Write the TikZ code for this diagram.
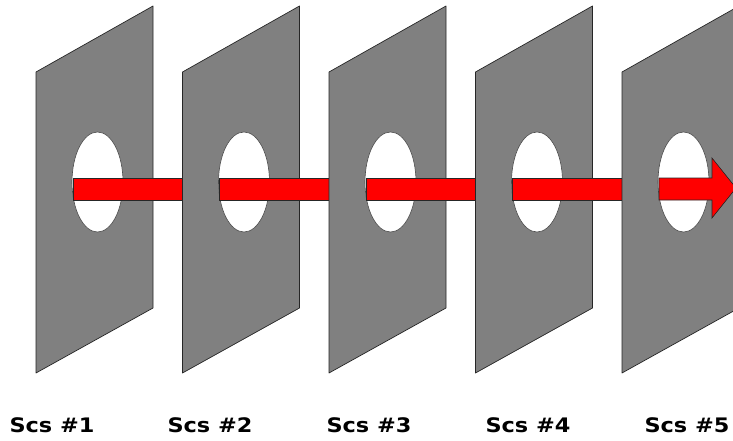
\documentclass[tikz,border=0pt]{standalone}
\usepackage{fontspec}
\newfontfamily\lblfont{DejaVu Sans}[FakeStretch=1.12]
\definecolor{plategray}{HTML}{808080}
\definecolor{beamred}{HTML}{FF0000}
\begin{document}
\begin{tikzpicture}[x=1pt,y=-1pt,
  plate/.style={fill=plategray,draw=black!85,line width=0.7pt,line join=round},
  hole/.style={fill=white,draw=black!70,line width=0.6pt},
  beam/.style={fill=beamred,draw=black!85,line width=0.6pt,line join=miter},
  lbl/.style={font=\lblfont\bfseries\fontsize{20}{24}\selectfont,anchor=base,inner sep=0pt}]
\path[use as bounding box] (0,0) rectangle (733,441);
\begin{scope}
\clip (0,0) rectangle (733,441);
\foreach \i in {0,...,4}{
  \pgfmathsetmacro\L{36+146.5*\i}
  \draw[plate] (\L,72) -- (\L+117,6) -- (\L+117,308) -- (\L,373) -- cycle;
  \draw[hole] (\L+61.5,182) ellipse [x radius=25.5, y radius=50];
  \ifnum\i<4
    \draw[beam] (\L+37,178) rectangle (\L+148.5,200);
  \fi
}
\draw[beam] (659,178) -- (712,178) -- (712,158) -- (736,188) -- (712,218) -- (712,200) -- (659,200) -- cycle;
\end{scope}
\node[lbl] (s1) at (52,432) {Scs \#1};
\node[lbl] (s2) at (210,432) {Scs \#2};
\node[lbl] (s3) at (369,432) {Scs \#3};
\node[lbl] (s4) at (528,432) {Scs \#4};
\node[lbl] (s5) at (687,432) {Scs \#5};
\end{tikzpicture}
\end{document}
